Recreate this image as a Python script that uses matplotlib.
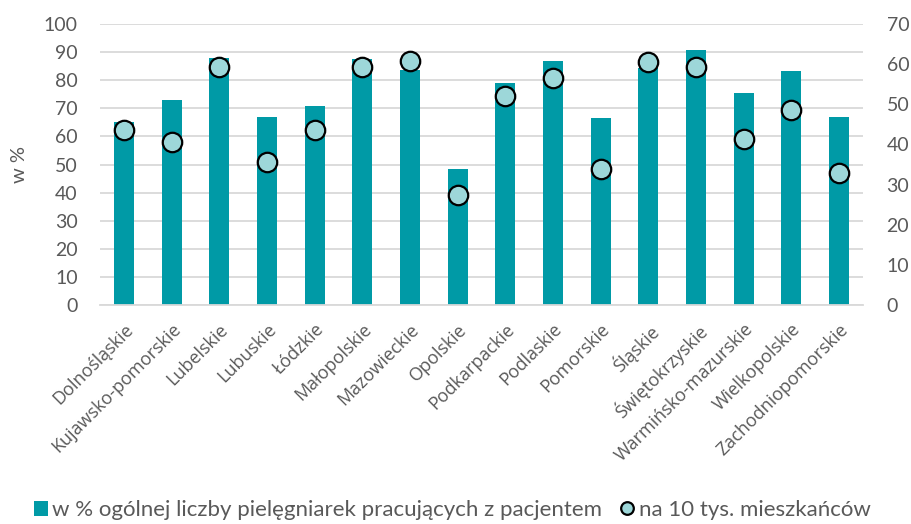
import numpy as np
import matplotlib.pyplot as plt

plt.rcParams['font.family'] = ['Lato', 'DejaVu Sans']

regions = ["Dolnośląskie", "Kujawsko-pomorskie", "Lubelskie", "Lubuskie", "Łódzkie",
           "Małopolskie", "Mazowieckie", "Opolskie", "Podkarpackie", "Podlaskie",
           "Pomorskie", "Śląskie", "Świętokrzyskie", "Warmińsko-mazurskie",
           "Wielkopolskie", "Zachodniopomorskie"]
pct_share = [65.2, 72.9, 87.8, 66.9, 70.9, 87.5, 83.5, 48.5, 78.9, 86.8,
             66.5, 84.4, 90.6, 75.5, 83.3, 66.8]
per_10k = [43.7, 40.6, 59.2, 35.5, 43.7, 59.4, 60.8, 27.5, 52.0, 56.5,
           33.8, 60.6, 59.4, 41.3, 48.5, 32.9]

bar_color = "#009AA6"
dot_color = "#9DD7D9"
text_color = "#595959"

fig = plt.figure(figsize=(9.12, 5.24), dpi=100)
ax = fig.add_axes([100/912, 1-305/524, 763/912, 281/524])
ax2 = ax.twinx()

x = np.arange(len(regions))
ax.bar(x, pct_share, width=0.42, color=bar_color, zorder=2,
       label="w % ogólnej liczby pielęgniarek pracujących z pacjentem")
ax2.plot(x, per_10k, linestyle="none", marker="o", markersize=14,
         markerfacecolor=dot_color, markeredgecolor="black", markeredgewidth=1.6,
         zorder=3, label="na 10 tys. mieszkańców")

ax.set_xlim(-0.5, len(regions) - 0.5)
ax.set_ylim(0, 100)
ax.set_yticks(range(0, 101, 10))
ax2.set_ylim(0, 70)
ax2.set_yticks(range(0, 71, 10))

ax.yaxis.grid(True, color="#D9D9D9", linewidth=1.3, zorder=0)
ax.set_axisbelow(True)
for a in (ax, ax2):
    for s in a.spines.values():
        s.set_visible(False)
    a.tick_params(axis="y", length=0, labelsize=14, labelcolor=text_color, pad=16)
ax2.tick_params(axis="y", pad=17)
ax.spines["bottom"].set_visible(True)
ax.spines["bottom"].set_color("#D9D9D9")
ax.spines["bottom"].set_linewidth(1.3)

ax.set_xticks(x)
ax.set_xticklabels(regions, rotation=45, ha="right", rotation_mode="anchor",
                   fontsize=13, color=text_color, family=["Open Sans", "DejaVu Sans"])
ax.tick_params(axis="x", length=0, pad=11)

ax.set_ylabel("w %", fontsize=14.5, color=text_color)
ax.yaxis.set_label_coords(-72/763, 0.5)

h1, l1 = ax.get_legend_handles_labels()
h2, l2 = ax2.get_legend_handles_labels()
fig.legend(h1 + h2, l1 + l2, loc="center", bbox_to_anchor=(452/912, 1 - 510/524),
           ncol=2, frameon=False, fontsize=16, labelcolor=text_color,
           handlelength=0.64, handleheight=0.64, handletextpad=0.2,
           columnspacing=0.8, markerscale=0.65)

fig.savefig("out.png", dpi=100)
